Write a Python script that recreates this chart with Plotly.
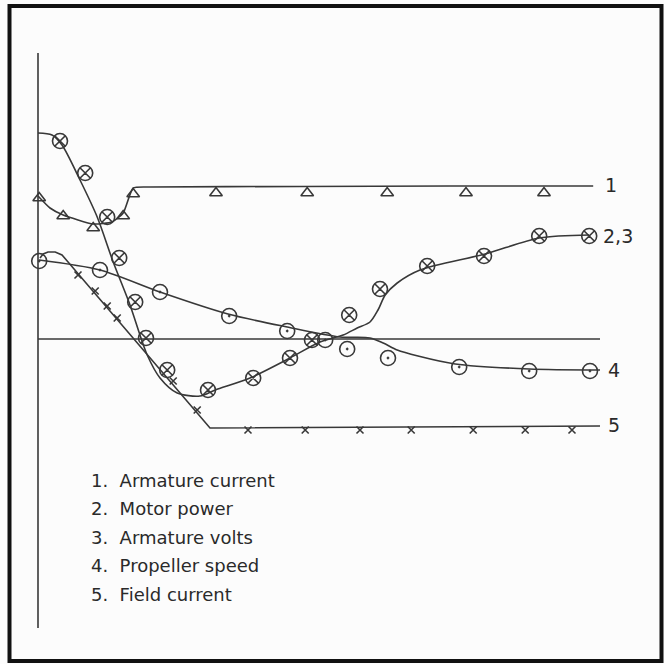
import plotly.graph_objects as go

# Data units: x = time (arbitrary), y = per-unit deviation
# Curve 1: Armature current
c1_line_x = [0.0, 0.3, 0.63, 1.38, 1.85, 2.13, 2.38, 2.8, 6.55, 10.3, 13.88]
c1_line_y = [1.43, 1.31, 1.24, 1.15, 1.17, 1.26, 1.51, 1.52, 1.525, 1.53, 1.53]
c1_mark_x = [0.03, 0.63, 1.38, 2.13, 2.38, 4.45, 6.73, 8.73, 10.7, 12.65]
c1_mark_y = [1.41, 1.23, 1.11, 1.23, 1.45, 1.46, 1.46, 1.46, 1.46, 1.46]

# Curve 2,3: Motor power / Armature volts
c23_line_x = [0.0, 0.35, 0.6, 1.05, 1.48, 1.88, 2.3, 2.55, 2.73, 3.05, 3.48, 4.05,
              4.43, 5.3, 6.3, 7.05, 7.63, 7.98, 8.3, 8.5, 8.68, 8.98, 9.55, 11.18, 12.53, 13.78]
c23_line_y = [2.06, 2.04, 1.94, 1.59, 1.22, 0.77, 0.34, 0.04, -0.16, -0.39, -0.54, -0.57,
              -0.51, -0.39, -0.19, -0.03, 0.04, 0.11, 0.17, 0.29, 0.44, 0.56, 0.69, 0.85, 1.01, 1.04]
c23_mark_x = [0.55, 1.18, 1.73, 2.03, 2.43, 2.7, 3.23, 4.25, 5.38, 6.3, 6.85, 7.78,
              8.55, 9.73, 11.15, 12.53, 13.78]
c23_mark_y = [1.98, 1.66, 1.22, 0.81, 0.37, 0.01, -0.31, -0.51, -0.39, -0.19, -0.01, 0.24,
              0.5, 0.73, 0.83, 1.03, 1.03]

# Curve 4: Propeller speed
c4_line_x = [0.03, 1.55, 3.05, 4.75, 6.23, 7.55, 8.3, 8.63, 8.98, 9.5, 10.43, 12.28, 14.05]
c4_line_y = [0.79, 0.69, 0.47, 0.25, 0.12, 0.02, 0.01, -0.04, -0.11, -0.17, -0.25, -0.3, -0.31]
c4_mark_x = [0.03, 1.55, 3.05, 4.78, 6.23, 7.18, 7.73, 8.75, 10.53, 12.28, 13.8]
c4_mark_y = [0.78, 0.69, 0.47, 0.23, 0.08, -0.01, -0.1, -0.19, -0.28, -0.32, -0.32]

# Curve 5: Field current
c5_line_x = [0.05, 0.13, 0.25, 0.43, 0.6, 0.73, 4.3, 14.05]
c5_line_y = [0.81, 0.85, 0.87, 0.87, 0.84, 0.78, -0.89, -0.87]
c5_mark_x = [1.0, 1.43, 1.73, 1.98, 3.38, 3.98, 5.25, 6.68, 8.05, 9.33, 10.88, 12.18, 13.35]
c5_mark_y = [0.64, 0.48, 0.33, 0.21, -0.42, -0.71, -0.91, -0.91, -0.91, -0.91, -0.91, -0.91, -0.91]

end_labels = ["1", "2,3", "4", "5"]
end_label_x = [14.12, 14.08, 14.2, 14.2]
end_label_y = [1.54, 1.03, -0.31, -0.86]

legend_lines = ["1.  Armature current", "2.  Motor power", "3.  Armature volts",
                "4.  Propeller speed", "5.  Field current"]

INK = "#383838"
X_RANGE = [-0.95, 15.65]
Y_RANGE = [-3.25, 3.39]

fig = go.Figure()

def add_line(xs, ys, shape="spline", smooth=0.7):
    line = dict(color=INK, width=1.6, shape=shape)
    if shape == "spline":
        line["smoothing"] = smooth
    fig.add_trace(go.Scatter(x=xs, y=ys, mode="lines", line=line,
                             hoverinfo="skip", showlegend=False))

def add_marks(xs, ys, symbol, size, width=1.6):
    fig.add_trace(go.Scatter(x=xs, y=ys, mode="markers",
                             marker=dict(symbol=symbol, size=size, color=INK,
                                         line=dict(color=INK, width=width)),
                             hoverinfo="skip", showlegend=False))

add_line(c1_line_x, c1_line_y, "spline", 0.5)
add_line(c23_line_x, c23_line_y, "spline", 0.8)
add_line(c4_line_x, c4_line_y, "spline", 0.8)
add_line(c5_line_x, c5_line_y, "linear")

add_marks(c1_mark_x, c1_mark_y, "triangle-up-open", 11)
add_marks(c23_mark_x, c23_mark_y, "circle-x-open", 15)
add_marks(c4_mark_x, c4_mark_y, "circle-open-dot", 15)
add_marks(c5_mark_x, c5_mark_y, "x-thin-open", 7)

for t, x, y in zip(end_labels, end_label_x, end_label_y):
    fig.add_annotation(x=x, y=y, text=t, showarrow=False, xanchor="left", yanchor="middle",
                       font=dict(family="DejaVu Sans", size=19, color="#2a2a2a"))

for i, t in enumerate(legend_lines):
    fig.add_annotation(x=89 / 664, y=1 - (480 + i * 28.5) / 664, xref="paper", yref="paper",
                       text=t, showarrow=False, xanchor="left", yanchor="middle",
                       font=dict(family="DejaVu Sans", size=18, color="#2a2a2a"))

# axes drawn as lines
fig.add_shape(type="line", x0=0, x1=0, y0=-2.89, y1=2.86, xref="x", yref="y",
              line=dict(color=INK, width=1.6))
fig.add_shape(type="line", x0=0, x1=14.05, y0=0, y1=0, xref="x", yref="y",
              line=dict(color=INK, width=1.6))
# frame
fig.add_shape(type="rect", x0=9.5 / 664, x1=661.5 / 664, y0=1 - 661 / 664, y1=1 - 6 / 664,
              xref="paper", yref="paper", line=dict(color="#111111", width=4))

fig.update_xaxes(range=X_RANGE, visible=False, showgrid=False)
fig.update_yaxes(range=Y_RANGE, visible=False, showgrid=False)
fig.update_layout(width=664, height=664, margin=dict(l=0, r=0, t=0, b=0),
                  paper_bgcolor="#fcfcfc", plot_bgcolor="#fcfcfc")

fig.write_html("out.html", config={"displayModeBar": False},
               post_script="document.body.style.margin='0';document.body.style.padding='0';")
